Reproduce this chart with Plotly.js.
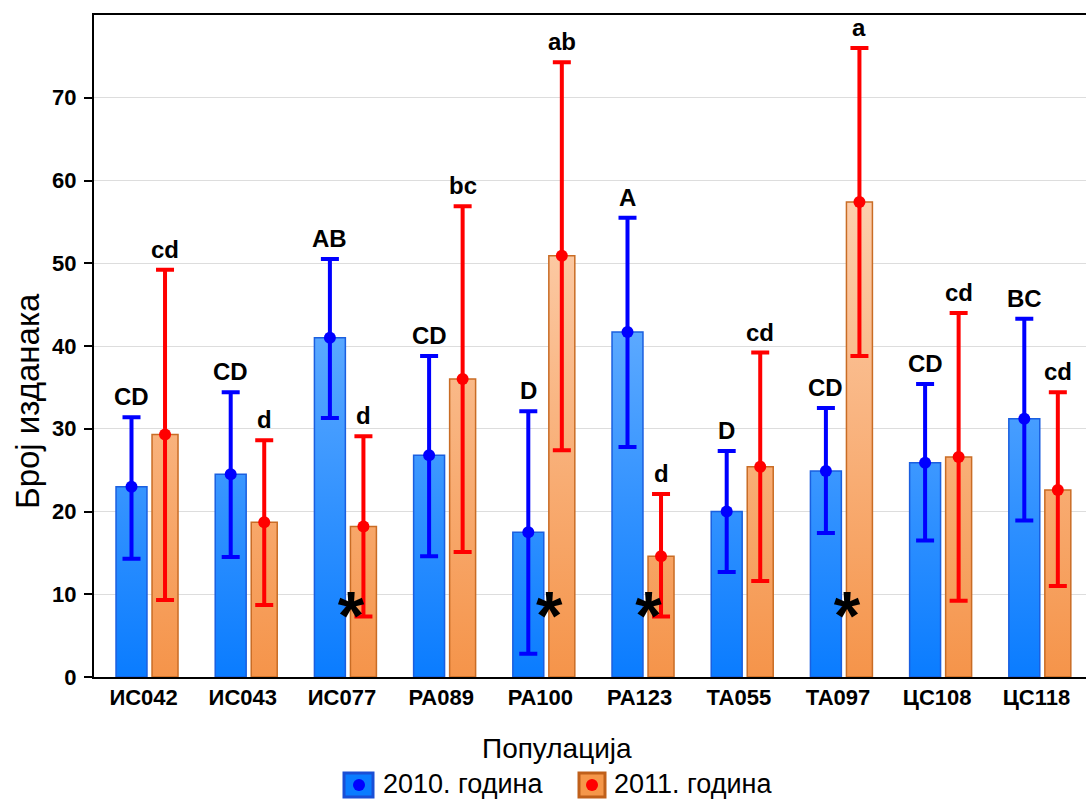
<!DOCTYPE html>
<html>
<head>
<meta charset="utf-8">
<script src="https://cdn.plot.ly/plotly-3.0.1.min.js"></script>
<style>
  html, body { margin: 0; padding: 0; background: #fff; }
  #chart { width: 1086px; height: 803px; }
</style>
</head>
<body>
<div id="chart"></div>
<script>
// populations on the x axis
const categories = ['ИС042', 'ИС043', 'ИС077', 'РА089', 'РА100', 'РА123', 'ТА055', 'ТА097', 'ЦС108', 'ЦС118'];

// 2010 - mean and interval ends
const mean2010  = [23.0, 24.5, 41.0, 26.8, 17.5, 41.7, 20.0, 24.9, 25.9, 31.2];
const upper2010 = [31.4, 34.4, 50.5, 38.8, 32.1, 55.5, 27.3, 32.5, 35.4, 43.3];
const lower2010 = [14.3, 14.5, 31.3, 14.6, 2.8, 27.8, 12.7, 17.4, 16.5, 18.9];
const letters2010 = ['CD', 'CD', 'AB', 'CD', 'D', 'A', 'D', 'CD', 'CD', 'BC'];

// 2011 - mean and interval ends
const mean2011  = [29.3, 18.7, 18.2, 36.0, 50.9, 14.6, 25.4, 57.4, 26.6, 22.6];
const upper2011 = [49.2, 28.6, 29.1, 56.9, 74.3, 22.1, 39.2, 76.0, 44.0, 34.4];
const lower2011 = [9.3, 8.7, 7.3, 15.1, 27.4, 7.3, 11.6, 38.8, 9.2, 11.0];
const letters2011 = ['cd', 'd', 'd', 'bc', 'ab', 'd', 'cd', 'a', 'cd', 'cd'];

// populations with a significant difference between years
const starred = ['ИС077', 'РА100', 'РА123', 'ТА097'];
const starLevel = 6.7;

const seriesNames = ['2010. година', '2011. година'];

// layout constants (pixels)
const W = 1086, H = 803;
const M = { l: 94, r: 0, t: 15, b: 126 };
const plotW = W - M.l - M.r, plotH = H - M.t - M.b;
const px2x = px => (px - M.l) / plotW;
const px2y = py => (H - M.b - py) / plotH;

// bar geometry in category units
const blueOff = -0.278, blueW = 0.312;
const orOff = 0.085, orW = 0.262;

const idx = categories.map((c, i) => i);
const FONT = 'Liberation Sans, Arial, sans-serif';

const traces = [
    {
        type: 'bar', x: idx, y: mean2010, offset: blueOff, width: blueW,
        marker: { color: '#0a7cff', line: { color: '#1a5fe0', width: 1.5 } },
        showlegend: false, hoverinfo: 'none'
    },
    {
        type: 'bar', x: idx, y: mean2011, offset: orOff, width: orW,
        marker: { color: '#f5974a', line: { color: '#c96c25', width: 1.5 } },
        showlegend: false, hoverinfo: 'none'
    },
    {
        type: 'scatter', mode: 'markers',
        x: idx.map(i => i + blueOff + blueW / 2), y: mean2010,
        marker: { color: '#0000ff', size: 12 },
        error_y: {
            type: 'data', symmetric: false,
            array: upper2010.map((u, i) => u - mean2010[i]),
            arrayminus: lower2010.map((l, i) => mean2010[i] - l),
            color: '#0000ff', thickness: 4, width: 9
        },
        showlegend: false, hoverinfo: 'none'
    },
    {
        type: 'scatter', mode: 'markers',
        x: idx.map(i => i + orOff + orW / 2), y: mean2011,
        marker: { color: '#ff0000', size: 12 },
        error_y: {
            type: 'data', symmetric: false,
            array: upper2011.map((u, i) => u - mean2011[i]),
            arrayminus: lower2011.map((l, i) => mean2011[i] - l),
            color: '#ff0000', thickness: 4, width: 9
        },
        showlegend: false, hoverinfo: 'none'
    },
    {
        type: 'scatter', mode: 'text',
        x: starred.map(c => categories.indexOf(c) + 0.09),
        y: starred.map(() => starLevel),
        text: starred.map(() => '*'),
        textposition: 'middle center',
        textfont: { family: FONT, size: 68, color: '#000', weight: 'bold' },
        showlegend: false, hoverinfo: 'none'
    }
];

// significance letters above the upper caps
const annotations = [];
categories.forEach((c, i) => {
    annotations.push({
        x: i + blueOff + blueW / 2, y: upper2010[i], text: '<b>' + letters2010[i] + '</b>',
        showarrow: false, yanchor: 'bottom', yshift: 5,
        font: { family: FONT, size: 24, color: '#000' }
    });
    annotations.push({
        x: i + orOff + orW / 2, y: upper2011[i], text: '<b>' + letters2011[i] + '</b>',
        showarrow: false, yanchor: 'bottom', yshift: 5,
        font: { family: FONT, size: 24, color: '#000' }
    });
});

// axis titles
annotations.push({
    xref: 'paper', yref: 'paper', x: px2x(28), y: px2y(401),
    xanchor: 'center', yanchor: 'middle',
    text: 'Број изданака', textangle: -90, showarrow: false,
    font: { family: FONT, size: 33, color: '#000' }
});
annotations.push({
    xref: 'paper', yref: 'paper', x: px2x(557), y: px2y(748),
    xanchor: 'center', yanchor: 'middle',
    text: 'Популација', showarrow: false,
    font: { family: FONT, size: 28, color: '#000' }
});

// hand made legend
const legY = 785;
const shapes = [
    { type: 'rect', xref: 'paper', yref: 'paper', x0: px2x(344), x1: px2x(373), y0: px2y(legY - 12), y1: px2y(legY + 12),
      fillcolor: '#0a7cff', line: { color: '#1a4fd6', width: 3 } },
    { type: 'circle', xref: 'paper', yref: 'paper', x0: px2x(353), x1: px2x(365), y0: px2y(legY - 6), y1: px2y(legY + 6),
      fillcolor: '#0000ff', line: { width: 0 } },
    { type: 'rect', xref: 'paper', yref: 'paper', x0: px2x(579), x1: px2x(605), y0: px2y(legY - 12), y1: px2y(legY + 12),
      fillcolor: '#f5974a', line: { color: '#c0601a', width: 3 } },
    { type: 'circle', xref: 'paper', yref: 'paper', x0: px2x(586), x1: px2x(598), y0: px2y(legY - 6), y1: px2y(legY + 6),
      fillcolor: '#ff0000', line: { width: 0 } }
];
annotations.push({
    xref: 'paper', yref: 'paper', x: px2x(381), y: px2y(legY - 1), xanchor: 'left', yanchor: 'middle',
    text: seriesNames[0], showarrow: false, font: { family: FONT, size: 27, color: '#000' }
});
annotations.push({
    xref: 'paper', yref: 'paper', x: px2x(612), y: px2y(legY - 1), xanchor: 'left', yanchor: 'middle',
    text: seriesNames[1], showarrow: false, font: { family: FONT, size: 27, color: '#000' }
});

const layout = {
    width: W, height: H,
    margin: M,
    paper_bgcolor: '#fff',
    plot_bgcolor: '#fff',
    showlegend: false,
    barmode: 'overlay',
    xaxis: {
        range: [-0.5, 9.5],
        tickvals: idx, ticktext: categories,
        showgrid: false, zeroline: false,
        showline: true, linecolor: '#000', linewidth: 2, mirror: true,
        ticks: '',
        tickfont: { family: FONT, size: 22, color: '#000', weight: 'bold' }
    },
    yaxis: {
        range: [0, 80],
        tickvals: [0, 10, 20, 30, 40, 50, 60, 70],
        showgrid: true, gridcolor: '#dddddd', gridwidth: 1,
        zeroline: false,
        showline: true, linecolor: '#000', linewidth: 2,
        ticks: 'outside', ticklen: 8, tickwidth: 2, tickcolor: '#000',
        ticklabelstandoff: 3,
        tickfont: { family: FONT, size: 22, color: '#000', weight: 'bold' }
    },
    annotations: annotations,
    shapes: shapes
};

function addGradient(defs, id, bottom, top) {
    const ns = 'http://www.w3.org/2000/svg';
    const g = document.createElementNS(ns, 'linearGradient');
    g.setAttribute('id', id);
    g.setAttribute('gradientUnits', 'userSpaceOnUse');
    g.setAttribute('x1', 0); g.setAttribute('x2', 0);
    g.setAttribute('y1', plotH); g.setAttribute('y2', 0);
    [[0, bottom], [1, top]].forEach(([o, c]) => {
        const s = document.createElementNS(ns, 'stop');
        s.setAttribute('offset', o);
        s.setAttribute('stop-color', c);
        g.appendChild(s);
    });
    defs.appendChild(g);
}

Plotly.newPlot('chart', traces, layout, { staticPlot: true }).then(gd => {
    // vertical colour fade on the bars, same as the original figure
    const svg = gd.querySelector('.main-svg');
    let defs = svg.querySelector('defs');
    if (!defs) {
        defs = document.createElementNS('http://www.w3.org/2000/svg', 'defs');
        svg.insertBefore(defs, svg.firstChild);
    }
    addGradient(defs, 'fadeBlue', '#0a7cff', '#a6d2ff');
    addGradient(defs, 'fadeOrange', '#f5944a', '#ffe6d4');
    const ids = ['fadeBlue', 'fadeOrange'];
    gd.querySelectorAll('.barlayer .trace').forEach((tr, i) => {
        tr.querySelectorAll('path').forEach(p => { p.style.fill = 'url(#' + ids[i] + ')'; });
    });
});
</script>
</body>
</html>
